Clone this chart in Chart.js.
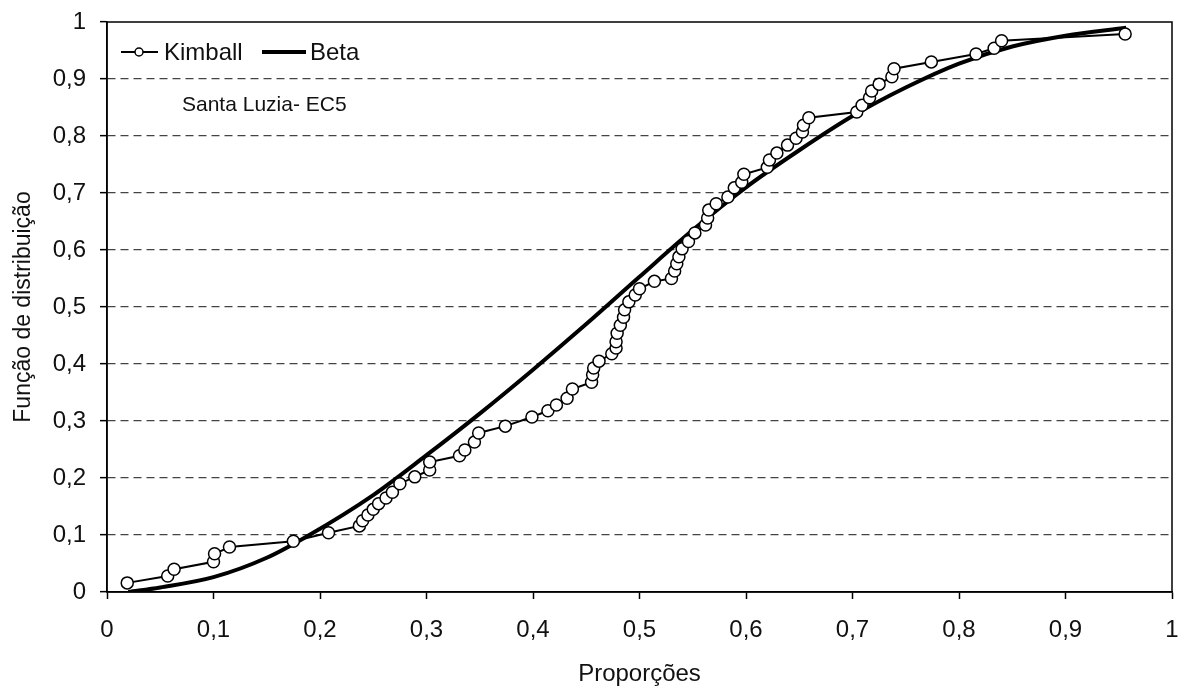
<!DOCTYPE html>
<html>
<head>
<meta charset="utf-8">
<script src="https://cdn.jsdelivr.net/npm/chart.js@4"></script>
<style>
  html, body { margin: 0; padding: 0; background: #fff; }
  #box { width: 1184px; height: 689px; }
</style>
</head>
<body>
<div id="box"><canvas id="cdf-chart"></canvas></div>
<script>
// Kimball (empirical) points
var kimballX = [0.019, 0.057, 0.063, 0.100, 0.101, 0.115, 0.175, 0.208, 0.237, 0.240,
    0.245, 0.250, 0.255, 0.262, 0.268, 0.275, 0.289, 0.303, 0.303, 0.331,
    0.336, 0.345, 0.349, 0.374, 0.399, 0.414, 0.422, 0.432, 0.437, 0.455,
    0.456, 0.457, 0.462, 0.474, 0.478, 0.478, 0.479, 0.482, 0.485, 0.486,
    0.490, 0.496, 0.500, 0.514, 0.530, 0.533, 0.535, 0.537, 0.540, 0.546,
    0.552, 0.562, 0.564, 0.565, 0.572, 0.583, 0.589, 0.596, 0.598, 0.620,
    0.622, 0.629, 0.639, 0.647, 0.653, 0.654, 0.659, 0.704, 0.709, 0.716,
    0.718, 0.725, 0.737, 0.739, 0.774, 0.816, 0.833, 0.840, 0.956];
var kimballY = [0.016, 0.028, 0.040, 0.053, 0.067, 0.079, 0.089, 0.104, 0.116, 0.125,
    0.135, 0.145, 0.155, 0.165, 0.175, 0.190, 0.202, 0.214, 0.228, 0.239,
    0.249, 0.263, 0.279, 0.291, 0.307, 0.318, 0.328, 0.340, 0.356, 0.368,
    0.381, 0.393, 0.405, 0.418, 0.428, 0.439, 0.454, 0.468, 0.482, 0.495,
    0.509, 0.521, 0.532, 0.545, 0.550, 0.563, 0.576, 0.588, 0.602, 0.615,
    0.630, 0.644, 0.656, 0.670, 0.681, 0.693, 0.709, 0.719, 0.733, 0.745,
    0.758, 0.770, 0.784, 0.796, 0.807, 0.819, 0.832, 0.842, 0.854, 0.867,
    0.879, 0.891, 0.904, 0.918, 0.930, 0.944, 0.954, 0.967, 0.979];

// fitted Beta CDF
var betaX = [0.02, 0.05, 0.10, 0.15, 0.19, 0.25, 0.30, 0.35, 0.40, 0.45,
    0.50, 0.55, 0.60, 0.65, 0.70, 0.75, 0.80, 0.85, 0.90, 0.957];
var betaY = [0.0, 0.008, 0.026, 0.060, 0.100, 0.170, 0.240, 0.313, 0.390, 0.470,
    0.553, 0.635, 0.710, 0.775, 0.835, 0.885, 0.927, 0.957, 0.976, 0.990];

var tickValues = [0, 0.1, 0.2, 0.3, 0.4, 0.5, 0.6, 0.7, 0.8, 0.9, 1];

var FONT = '"Liberation Sans", Arial, sans-serif';

function pairs(xs, ys) {
    return xs.map(function (x, i) { return { x: x, y: ys[i] }; });
}
function comma(v) {
    return String(Math.round(v * 10) / 10).replace('.', ',');
}

// frame, legend and station label drawn inside the plot area
var extras = {
    id: 'extras',
    afterDraw: function (chart) {
        var ctx = chart.ctx;
        var a = chart.chartArea;
        ctx.save();
        ctx.strokeStyle = '#000';
        ctx.lineWidth = 1.5;
        ctx.strokeRect(a.left, a.top, a.right - a.left, a.bottom - a.top);

        ctx.font = '24px ' + FONT;
        ctx.fillStyle = '#111';
        ctx.textBaseline = 'middle';
        // Kimball entry
        var ly = 52;
        ctx.lineWidth = 2;
        ctx.beginPath();
        ctx.moveTo(121, ly);
        ctx.lineTo(158, ly);
        ctx.stroke();
        ctx.beginPath();
        ctx.arc(139, ly, 4, 0, Math.PI * 2);
        ctx.fillStyle = '#fff';
        ctx.fill();
        ctx.lineWidth = 1.5;
        ctx.stroke();
        ctx.fillStyle = '#111';
        ctx.fillText('Kimball', 164, ly + 1);
        // Beta entry
        ctx.lineWidth = 4;
        ctx.beginPath();
        ctx.moveTo(262, ly);
        ctx.lineTo(306, ly);
        ctx.stroke();
        ctx.fillText('Beta', 310, ly + 1);

        ctx.font = '21px ' + FONT;
        ctx.fillText('Santa Luzia- EC5', 182, 105);
        ctx.restore();
    }
};

new Chart(document.getElementById('cdf-chart'), {
    type: 'scatter',
    data: {
        datasets: [
            {
                label: 'Beta',
                data: pairs(betaX, betaY),
                showLine: true,
                borderColor: '#000',
                borderWidth: 4,
                pointRadius: 0,
                cubicInterpolationMode: 'monotone',
                order: 2
            },
            {
                label: 'Kimball',
                data: pairs(kimballX, kimballY),
                showLine: true,
                borderColor: '#000',
                borderWidth: 2,
                pointRadius: 6,
                pointBorderWidth: 1.5,
                pointBackgroundColor: '#fff',
                pointBorderColor: '#000',
                order: 1
            }
        ]
    },
    options: {
        responsive: true,
        maintainAspectRatio: false,
        animation: false,
        layout: { padding: { top: 22, right: 12, left: 0, bottom: 0 } },
        plugins: {
            legend: { display: false },
            tooltip: { enabled: false }
        },
        scales: {
            x: {
                type: 'linear',
                min: 0,
                max: 1,
                afterBuildTicks: function (s) {
                    s.ticks = tickValues.map(function (v) { return { value: v }; });
                },
                afterFit: function (s) {
                    s.height = 97;
                    s.paddingLeft = 0;
                    s.paddingRight = 0;
                },
                grid: { drawOnChartArea: false, tickLength: 7, tickColor: '#000', tickWidth: 1.5 },
                border: { color: '#000', width: 1.5 },
                ticks: {
                    color: '#111',
                    font: { family: FONT, size: 24 },
                    padding: 17,
                    maxRotation: 0,
                    callback: comma
                },
                title: {
                    display: true,
                    text: 'Proporções',
                    color: '#111',
                    font: { family: FONT, size: 24 },
                    padding: { top: 0, bottom: 0 }
                }
            },
            y: {
                type: 'linear',
                min: 0,
                max: 1,
                afterBuildTicks: function (s) {
                    s.ticks = tickValues.map(function (v) { return { value: v }; });
                },
                afterFit: function (s) {
                    s.width = 107;
                    s.paddingTop = 0;
                    s.paddingBottom = 0;
                },
                grid: {
                    color: function (c) {
                        var v = c.tick ? c.tick.value : 0;
                        return (v <= 0 || v >= 1) ? 'rgba(0,0,0,0)' : '#444';
                    },
                    lineWidth: 1.3,
                    tickLength: 7,
                    tickColor: '#000',
                    tickWidth: 1.5
                },
                border: { color: '#000', width: 1.5, dash: [8, 5] },
                ticks: {
                    color: '#111',
                    font: { family: FONT, size: 24 },
                    padding: 14,
                    callback: comma
                },
                title: {
                    display: true,
                    text: 'Função de distribuição',
                    color: '#111',
                    font: { family: FONT, size: 23 },
                    padding: { top: 10, bottom: 0 }
                }
            }
        }
    },
    plugins: [extras]
});
</script>
</body>
</html>
